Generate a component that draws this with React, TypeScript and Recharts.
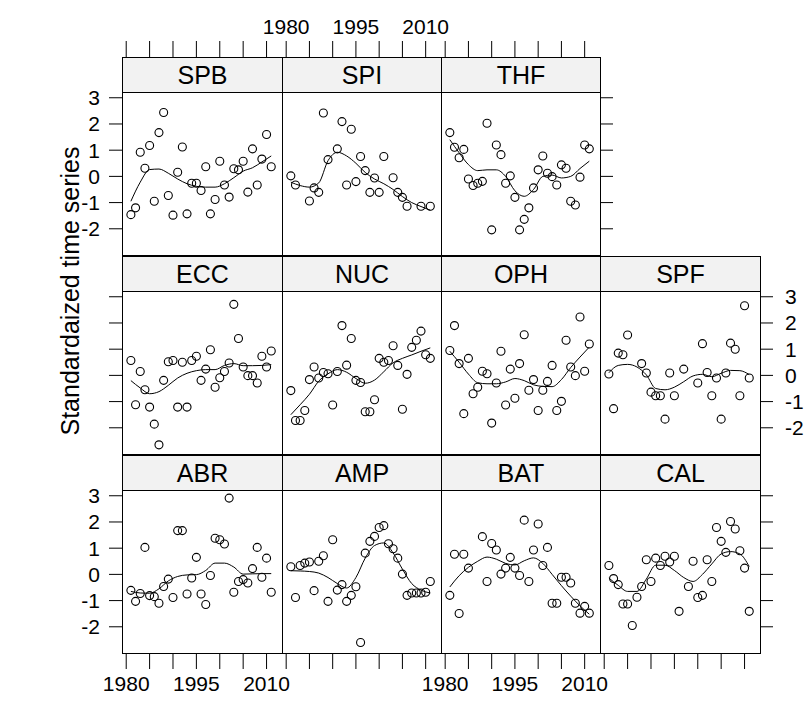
import React from "react";
import { ComposedChart, Scatter, Line, XAxis, YAxis } from "recharts";

// years observed in every panel (null = no point drawn)
const years = [
  1981, 1982, 1983, 1984, 1985, 1986, 1987, 1988, 1989, 1990, 1991, 1992, 1993, 1994, 1995, 1996,
  1997, 1998, 1999, 2000, 2001, 2002, 2003, 2004, 2005, 2006, 2007, 2008, 2009, 2010, 2011,
];
const fitYears = [1981, 1983, 1985, 1987, 1989, 1991, 1993, 1995, 1997, 1999, 2001, 2003, 2005, 2007, 2009, 2011];

const xTicks = [1980, 1985, 1990, 1995, 2000, 2005, 2010];
const xLabelled = [1980, 1995, 2010];
const yTicks = [3, 2, 1, 0, -1, -2];

const spb = [-1.46, -1.2, 0.92, 0.31, 1.18, -0.95, 1.67, 2.44, -0.73, -1.48, 0.16, 1.12, -1.43, -0.26, -0.26, -0.54, 0.37, -1.43, -0.88, 0.58, -0.33, -0.79, 0.29, 0.25, 0.58, -0.6, 1.05, -0.33, 0.66, 1.6, 0.37];
const spi = [0.02, -0.33, null, null, -0.94, -0.44, -0.61, 2.42, 0.64, null, 1.05, 2.09, -0.33, 1.8, -0.2, 0.76, 0.22, -0.61, -0.06, -0.61, 0.76, null, -0.05, -0.61, -0.8, -1.14, null, null, -1.14, null, -1.14];
const thf = [1.67, 1.11, 0.71, 1.03, -0.1, -0.35, -0.26, -0.19, 2.03, -2.04, 1.2, 0.83, -0.26, 0.02, -0.8, -2.04, -1.64, -1.2, -0.44, 0.25, 0.78, 0.12, -0.01, -0.33, 0.44, 0.31, -0.95, -1.09, -0.03, 1.2, 1.05];
const ecc = [0.57, -1.12, 0.15, -0.55, -1.21, -1.86, -2.65, -0.19, 0.52, 0.57, -1.21, 0.5, -1.21, 0.57, 0.73, -0.19, 0.24, 0.98, -0.45, -0.09, 0.15, 0.47, 2.71, 1.41, 0.32, -0.01, -0.01, -0.29, 0.73, 0.32, 0.93];
const nuc = [-0.58, -1.72, -1.72, -1.34, -0.16, 0.32, -0.1, 0.11, 0.06, -1.13, 0.15, 1.9, 0.39, 1.41, -0.19, -0.27, -1.39, -1.39, -0.93, 0.65, 0.5, 0.57, 1.13, 0.38, -1.29, 0.04, 1.07, 1.34, 1.69, 0.79, 0.65];
const oph = [0.95, 1.9, 0.45, -1.46, 0.65, -0.7, -0.45, 0.16, 0.06, -1.82, -0.29, 0.92, -1.13, 0.24, -0.87, 0.45, 1.55, -0.57, -0.16, -1.34, -0.57, -0.23, 0.38, -1.34, -0.99, 1.34, 0.32, -0.01, 2.23, 0.16, 1.2];
const spf = [0.05, -1.27, 0.85, 0.79, 1.54, null, null, 0.45, 0.09, -0.64, -0.78, -0.78, -1.67, 0.09, -0.78, null, 0.24, null, null, -0.29, 1.21, 0.11, -0.78, -0.1, -1.67, 0.09, 1.23, 1.0, -0.78, 2.66, -0.1];
const abr = [-0.61, -1.03, -0.73, 1.03, -0.81, -0.85, -1.1, -0.46, -0.18, -0.88, 1.67, 1.67, -0.75, -0.14, 0.65, -0.75, -1.15, -0.04, 1.38, 1.32, 1.16, 2.91, -0.68, -0.27, -0.2, -0.33, 0.22, 1.03, -0.11, 0.62, -0.68];
const amp = [0.29, -0.88, 0.34, 0.43, 0.47, -0.62, 0.5, 0.71, -1.03, 1.32, -0.6, -0.39, -1.03, -0.8, -0.47, -2.6, 0.81, 1.26, 1.45, 1.79, 1.86, 1.17, 0.98, 0.62, 0.01, -0.8, -0.71, -0.71, -0.71, -0.68, -0.27];
const bat = [-0.8, 0.77, -1.49, 0.77, 0.24, null, null, 1.44, -0.27, 1.18, 0.93, 0.01, 0.24, 0.65, 0.24, -0.04, 2.07, -0.27, 0.93, 1.92, 0.34, 1.03, -1.1, -1.1, -0.11, -0.11, -0.33, -1.1, -1.48, -1.22, -1.48];
const cal = [0.34, -0.16, -0.39, -1.13, -1.13, -1.95, -0.87, -0.46, 0.56, -0.27, 0.62, 0.34, 0.69, 0.47, 0.69, -1.41, null, -0.46, 0.5, -0.88, -0.8, 0.56, -0.27, 1.79, 1.26, 0.84, 2.02, 1.73, 0.9, 0.24, -1.41];

const spbFit = [-0.95, -0.22, 0.26, 0.28, 0.12, -0.1, -0.28, -0.38, -0.41, -0.41, -0.28, -0.05, 0.2, 0.33, 0.55, 0.78];
const spiFit = [-0.22, -0.35, -0.41, -0.25, 0.6, 0.92, 0.78, 0.5, 0.15, -0.1, -0.28, -0.5, -0.77, -1.0, -1.15, -1.29];
const thfFit = [1.4, 0.9, 0.45, 0.22, 0.25, 0.25, 0.0, -0.55, -0.76, -0.5, 0.0, 0.05, -0.06, 0.0, 0.3, 0.58];
const eccFit = [-0.2, -0.48, -0.7, -0.62, -0.38, -0.1, 0.08, 0.18, 0.22, 0.22, 0.38, 0.45, 0.37, 0.37, 0.38, 0.41];
const nucFit = [-1.5, -1.12, -0.72, -0.22, 0.06, 0.22, 0.12, -0.12, -0.3, -0.18, 0.14, 0.48, 0.65, 0.78, 0.92, 1.05];
const ophFit = [0.92, 0.5, 0.05, -0.28, -0.32, -0.32, -0.25, -0.12, -0.2, -0.36, -0.42, -0.43, -0.16, 0.3, 0.7, 1.08];
const spfFit = [0.1, 0.38, 0.42, 0.32, 0.02, -0.5, -0.55, -0.45, -0.24, -0.02, 0.04, -0.05, 0.08, 0.19, 0.18, 0.03];
const abrFit = [-0.65, -0.71, -0.72, -0.55, -0.25, -0.08, -0.02, -0.01, 0.15, 0.43, 0.43, 0.28, 0.01, 0.02, 0.03, 0.03];
const ampFit = [0.14, 0.13, 0.11, 0.05, -0.12, -0.35, -0.52, -0.12, 0.62, 1.1, 1.2, 0.82, 0.2, -0.35, -0.6, -0.71];
const batFit = [-0.48, -0.05, 0.27, 0.5, 0.66, 0.58, 0.42, 0.36, 0.52, 0.63, 0.42, 0.0, -0.43, -0.83, -1.2, -1.52];
const calFit = [-0.14, -0.42, -0.65, -0.65, -0.18, 0.35, 0.35, 0.15, -0.12, -0.27, 0.0, 0.4, 0.78, 0.87, 0.78, 0.3];

const panels = [
  { name: "SPB", row: 0, col: 0, values: spb, fit: spbFit },
  { name: "SPI", row: 0, col: 1, values: spi, fit: spiFit },
  { name: "THF", row: 0, col: 2, values: thf, fit: thfFit },
  { name: "ECC", row: 1, col: 0, values: ecc, fit: eccFit },
  { name: "NUC", row: 1, col: 1, values: nuc, fit: nucFit },
  { name: "OPH", row: 1, col: 2, values: oph, fit: ophFit },
  { name: "SPF", row: 1, col: 3, values: spf, fit: spfFit },
  { name: "ABR", row: 2, col: 0, values: abr, fit: abrFit },
  { name: "AMP", row: 2, col: 1, values: amp, fit: ampFit },
  { name: "BAT", row: 2, col: 2, values: bat, fit: batFit },
  { name: "CAL", row: 2, col: 3, values: cal, fit: calFit },
];

const FONT = "'Liberation Sans', Arial, Helvetica, sans-serif";
const COL_LEFT = [122, 282, 441, 600];
const COL_W = [160, 159, 159, 160];
const STRIP_TOP = [57, 256, 455];
const STRIP_H = 35;
const PANEL_H = 163;
const X_DOMAIN: [number, number] = [1979.1, 2013.3];
const Y_DOMAIN: [number, number] = [-3.0, 3.22];
const AX_L = 50;
const AX_R = 50;
const AX_T = 80;
const AX_B = 50;
const X_TCK = 16;
const Y_TCK = 13;
const LABEL_SIZE = 21;

const none = () => <g />;

function Circle(props: any) {
  const { cx, cy } = props;
  if (cx == null || cy == null) return <g />;
  return <circle cx={cx} cy={cy} r={4} fill="none" stroke="#000" strokeWidth={1.1} />;
}

function Panel({ p }: { p: (typeof panels)[number] }) {
  const w = COL_W[p.col];
  const panelTop = STRIP_TOP[p.row] + STRIP_H;
  const pts = years
    .map((yr, i) => ({ yr, v: p.values[i] }))
    .filter((d) => d.v !== null);
  const fit = fitYears.map((yr, i) => ({ yr, v: p.fit[i] }));

  const leftTicks = p.col === 0;
  const leftLabels = leftTicks && p.row !== 1;
  const rightTicks = p.col === 3 || (p.row === 0 && p.col === 2);
  const rightLabels = p.row === 1 && p.col === 3;
  const bottomTicks = p.row === 2;
  const bottomLabels = bottomTicks && (p.col === 0 || p.col === 2);
  const topTicks = p.row === 0;
  const topLabels = topTicks && p.col === 1;

  const leftTick = (t: any) => (
    <text x={t.x} y={t.y + 7.5} textAnchor="end" fontSize={LABEL_SIZE} fontFamily={FONT} fill="#000">
      {t.payload.value}
    </text>
  );
  const rightTick = (t: any) => (
    <text x={t.x} y={t.y + 7.5} textAnchor="start" fontSize={LABEL_SIZE} fontFamily={FONT} fill="#000">
      {t.payload.value}
    </text>
  );
  const bottomTick = (t: any) =>
    xLabelled.includes(t.payload.value) ? (
      <text x={t.x} y={t.y + 15} textAnchor="middle" fontSize={LABEL_SIZE} fontFamily={FONT} fill="#000">
        {t.payload.value}
      </text>
    ) : (
      <g />
    );
  // top ticks sit above the strip, so they are drawn shifted up by the strip height
  const topTick = (t: any) => {
    const base = t.y - STRIP_H;
    return (
      <g>
        <line x1={t.x} x2={t.x} y1={base - X_TCK} y2={base} stroke="#000" strokeWidth={1} />
        {topLabels && xLabelled.includes(t.payload.value) ? (
          <text x={t.x} y={base - X_TCK - 7} textAnchor="middle" fontSize={LABEL_SIZE} fontFamily={FONT} fill="#000">
            {t.payload.value}
          </text>
        ) : null}
      </g>
    );
  };

  return (
    <div style={{ position: "absolute", left: COL_LEFT[p.col] - AX_L, top: panelTop - AX_T }}>
      <ComposedChart
        width={w + AX_L + AX_R}
        height={PANEL_H + AX_T + AX_B}
        margin={{ top: 0, right: 0, bottom: 0, left: 0 }}
      >
        <XAxis
          xAxisId="b"
          orientation="bottom"
          type="number"
          dataKey="yr"
          domain={X_DOMAIN}
          allowDataOverflow
          ticks={xTicks}
          interval={0}
          height={AX_B}
          axisLine={false}
          tickLine={bottomTicks ? { stroke: "#000", strokeWidth: 1 } : false}
          tickSize={X_TCK}
          tickMargin={7}
          tick={bottomLabels ? bottomTick : none}
        />
        <XAxis
          xAxisId="t"
          orientation="top"
          type="number"
          dataKey="yr"
          domain={X_DOMAIN}
          allowDataOverflow
          ticks={xTicks}
          interval={0}
          height={AX_T}
          axisLine={false}
          tickLine={false}
          tickSize={0}
          tickMargin={0}
          tick={topTicks ? topTick : none}
        />
        <YAxis
          yAxisId="l"
          orientation="left"
          type="number"
          dataKey="v"
          domain={Y_DOMAIN}
          allowDataOverflow
          ticks={yTicks}
          interval={0}
          width={AX_L}
          axisLine={false}
          tickLine={leftTicks ? { stroke: "#000", strokeWidth: 1 } : false}
          tickSize={Y_TCK}
          tickMargin={9}
          tick={leftLabels ? leftTick : none}
        />
        <YAxis
          yAxisId="r"
          orientation="right"
          type="number"
          dataKey="v"
          domain={Y_DOMAIN}
          allowDataOverflow
          ticks={yTicks}
          interval={0}
          width={AX_R}
          axisLine={false}
          tickLine={rightTicks ? { stroke: "#000", strokeWidth: 1 } : false}
          tickSize={Y_TCK}
          tickMargin={12}
          tick={rightLabels ? rightTick : none}
        />
        <Scatter
          data={pts}
          dataKey="v"
          xAxisId="b"
          yAxisId="l"
          shape={Circle}
          isAnimationActive={false}
        />
        <Line
          data={fit}
          dataKey="v"
          xAxisId="t"
          yAxisId="r"
          type="monotone"
          dot={false}
          activeDot={false}
          stroke="#000"
          strokeWidth={1}
          isAnimationActive={false}
        />
      </ComposedChart>
    </div>
  );
}

export default function App() {
  return (
    <div
      style={{
        position: "absolute",
        left: 0,
        top: 0,
        width: 805,
        height: 704,
        background: "#fff",
        overflow: "hidden",
        fontFamily: FONT,
      }}
    >
      {panels.map((p) => (
        <Panel key={p.name} p={p} />
      ))}
      {panels.map((p) => (
        <React.Fragment key={p.name + "-frame"}>
          <div
            style={{
              position: "absolute",
              left: COL_LEFT[p.col],
              top: STRIP_TOP[p.row] + STRIP_H,
              width: COL_W[p.col] + 1,
              height: PANEL_H + 1,
              border: "1px solid #000",
              boxSizing: "border-box",
              pointerEvents: "none",
            }}
          />
          <div
            style={{
              position: "absolute",
              left: COL_LEFT[p.col],
              top: STRIP_TOP[p.row],
              width: COL_W[p.col] + 1,
              height: STRIP_H + 1,
              border: "1px solid #000",
              boxSizing: "border-box",
              background: "#f2f2f2",
              display: "flex",
              alignItems: "center",
              justifyContent: "center",
              fontSize: 25,
              lineHeight: 1,
              color: "#000",
            }}
          >
            {p.name}
          </div>
        </React.Fragment>
      ))}
      <svg width={805} height={704} style={{ position: "absolute", left: 0, top: 0, pointerEvents: "none" }}>
        <text
          x={70}
          y={291}
          transform="rotate(-90 70 291)"
          textAnchor="middle"
          dominantBaseline="central"
          fontSize={25}
          fontFamily={FONT}
          fill="#000"
        >
          Standardaized time series
        </text>
      </svg>
    </div>
  );
}
